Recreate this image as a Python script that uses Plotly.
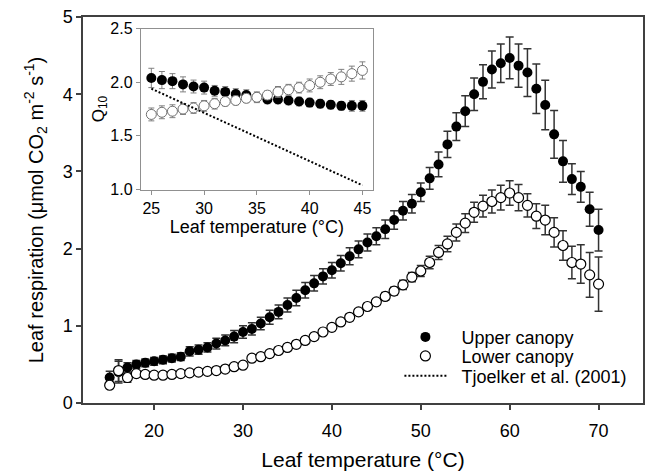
import plotly.graph_objects as go

# ---------------- data ----------------
temp = list(range(15, 71))
upper = [0.33, 0.40, 0.46, 0.50, 0.52, 0.54, 0.56, 0.58, 0.60, 0.67,
         0.69, 0.72, 0.77, 0.81, 0.86, 0.92, 0.96, 1.03, 1.11, 1.18,
         1.27, 1.36, 1.46, 1.55, 1.64, 1.72, 1.81, 1.90, 1.99, 2.08,
         2.16, 2.25, 2.37, 2.49, 2.58, 2.73, 2.91, 3.09, 3.35, 3.58,
         3.78, 4.00, 4.16, 4.32, 4.40, 4.47, 4.37, 4.28, 4.07, 3.86,
         3.48, 3.13, 2.90, 2.80, 2.51, 2.24]
upper_err = [0.08, 0.14, 0.06, 0.05, 0.05, 0.05, 0.05, 0.05, 0.05, 0.06,
             0.06, 0.06, 0.07, 0.07, 0.08, 0.08, 0.08, 0.08, 0.09, 0.09,
             0.09, 0.10, 0.10, 0.10, 0.10, 0.10, 0.10, 0.11, 0.11, 0.11,
             0.11, 0.12, 0.12, 0.12, 0.12, 0.12, 0.14, 0.16, 0.17, 0.18,
             0.20, 0.21, 0.22, 0.24, 0.25, 0.27, 0.28, 0.31, 0.32, 0.32,
             0.31, 0.27, 0.20, 0.20, 0.22, 0.27]
lower = [0.23, 0.42, 0.33, 0.38, 0.37, 0.36, 0.36, 0.37, 0.38, 0.39,
         0.40, 0.41, 0.42, 0.44, 0.47, 0.49, 0.58, 0.60, 0.64, 0.68,
         0.72, 0.76, 0.81, 0.86, 0.92, 0.98, 1.05, 1.11, 1.18, 1.25,
         1.31, 1.38, 1.45, 1.53, 1.63, 1.71, 1.82, 1.95, 2.06, 2.21,
         2.33, 2.47, 2.55, 2.61, 2.66, 2.72, 2.66, 2.56, 2.42, 2.37,
         2.21, 2.04, 1.82, 1.80, 1.66, 1.54]
lower_err = [0.03, 0.14, 0.06, 0.03, 0.03, 0.03, 0.03, 0.03, 0.03, 0.03,
             0.03, 0.03, 0.03, 0.03, 0.03, 0.03, 0.04, 0.04, 0.04, 0.04,
             0.04, 0.04, 0.04, 0.04, 0.04, 0.04, 0.04, 0.04, 0.04, 0.04,
             0.04, 0.05, 0.05, 0.06, 0.06, 0.07, 0.08, 0.09, 0.10, 0.11,
             0.12, 0.13, 0.14, 0.15, 0.16, 0.16, 0.17, 0.15, 0.16, 0.19,
             0.19, 0.19, 0.21, 0.25, 0.29, 0.35]

q_temp = list(range(25, 46))
q10_upper = [2.04, 2.02, 2.01, 1.98, 1.96, 1.95, 1.92, 1.91, 1.89, 1.88,
             1.86, 1.84, 1.84, 1.83, 1.82, 1.81, 1.80, 1.79, 1.78, 1.78, 1.78]
q10_upper_err = [0.09, 0.08, 0.07, 0.07, 0.06, 0.06, 0.05, 0.05, 0.05, 0.05,
                 0.05, 0.04, 0.04, 0.04, 0.04, 0.04, 0.04, 0.04, 0.04, 0.05, 0.05]
q10_lower = [1.70, 1.72, 1.73, 1.75, 1.76, 1.78, 1.80, 1.82, 1.83, 1.85,
             1.86, 1.88, 1.91, 1.93, 1.95, 1.97, 2.00, 2.03, 2.05, 2.08, 2.11]
q10_lower_err = [0.06, 0.06, 0.06, 0.05, 0.05, 0.05, 0.05, 0.04, 0.04, 0.04,
                 0.04, 0.04, 0.05, 0.05, 0.05, 0.06, 0.06, 0.06, 0.07, 0.07, 0.08]

tj_temp = [25, 45]
tj_q10 = [1.94, 1.04]

main_xticks = [20, 30, 40, 50, 60, 70]
main_yticks = [0, 1, 2, 3, 4, 5]
inset_xticks = [25, 30, 35, 40, 45]
inset_yticks = [1.0, 1.5, 2.0, 2.5]

FONT = "Liberation Sans, Arial, sans-serif"
PAD = "\u00a0\u00a0"

fig = go.Figure()

fig.add_trace(go.Scatter(
    x=temp, y=upper, mode="markers", name=PAD + "Upper canopy", legend="legend",
    marker=dict(size=10, color="black", line=dict(width=0)),
    error_y=dict(type="data", array=upper_err, color="#333333", thickness=1.5, width=4),
    xaxis="x", yaxis="y"))
fig.add_trace(go.Scatter(
    x=temp, y=lower, mode="markers", name=PAD + "Lower canopy", legend="legend2",
    marker=dict(size=10, color="white", line=dict(width=1.2, color="black")),
    error_y=dict(type="data", array=lower_err, color="#333333", thickness=1.5, width=4),
    xaxis="x", yaxis="y"))

fig.add_trace(go.Scatter(
    x=q_temp, y=q10_upper, mode="markers", showlegend=False,
    marker=dict(size=10, color="black", line=dict(width=0)),
    error_y=dict(type="data", array=q10_upper_err, color="#808080", thickness=1, width=3),
    xaxis="x2", yaxis="y2"))
fig.add_trace(go.Scatter(
    x=q_temp, y=q10_lower, mode="markers", showlegend=False,
    marker=dict(size=10, color="white", line=dict(width=1, color="#707070")),
    error_y=dict(type="data", array=q10_lower_err, color="#808080", thickness=1, width=3),
    xaxis="x2", yaxis="y2"))
fig.add_trace(go.Scatter(
    x=tj_temp, y=tj_q10, mode="lines", name=PAD + "Tjoelker et al. (2001)", legend="legend3",
    line=dict(color="black", width=2, dash="2px,2px"),
    xaxis="x2", yaxis="y2"))

leg_common = dict(xanchor="left", yanchor="middle", bgcolor="rgba(0,0,0,0)",
                  borderwidth=0, font=dict(size=18), itemwidth=42)

fig.update_layout(
    width=652, height=475,
    margin=dict(l=83, r=7, t=16, b=66),
    paper_bgcolor="white", plot_bgcolor="white",
    font=dict(family=FONT, size=18, color="black"),
    xaxis=dict(
        domain=[0, 1], range=[12, 75], tickvals=main_xticks,
        showgrid=False, zeroline=False, showline=True, mirror=True,
        linecolor="#404040", linewidth=1.5, ticks="outside", ticklen=5,
        tickwidth=1.5, tickcolor="#404040", ticklabelstandoff=6,
        tickfont=dict(size=18),
        title=dict(text="Leaf temperature (°C)", font=dict(size=21), standoff=12)),
    yaxis=dict(
        domain=[0, 1], range=[0, 5], tickvals=main_yticks,
        showgrid=False, zeroline=False, showline=True, mirror=True,
        linecolor="#404040", linewidth=1.5, ticks="outside", ticklen=5,
        tickwidth=1.5, tickcolor="#404040",
        tickfont=dict(size=18),
        title=dict(text="Leaf respiration (μmol CO<sub>2</sub> m<sup>-2</sup> s<sup>-1</sup>)",
                   font=dict(size=20), standoff=14)),
    xaxis2=dict(
        domain=[0.1032, 0.5178], range=[24, 46], tickvals=inset_xticks,
        anchor="y2", showgrid=False, zeroline=False, showline=True, mirror=True,
        linecolor="#909090", linewidth=1, ticks="outside", ticklen=4,
        tickcolor="#909090", tickfont=dict(size=16),
        title=dict(text="Leaf temperature (°C)", font=dict(size=18), standoff=4)),
    yaxis2=dict(
        domain=[0.553, 0.970], range=[1.0, 2.5], tickvals=inset_yticks,
        tickformat=".1f",
        anchor="x2", showgrid=False, zeroline=False, showline=True, mirror=True,
        linecolor="#909090", linewidth=1, ticks="outside", ticklen=4,
        tickcolor="#909090", tickfont=dict(size=16),
        title=dict(text="Q<sub>10</sub>", font=dict(size=17), standoff=1)),
    legend=dict(x=0.565, y=0.1705, **leg_common),
    legend2=dict(x=0.565, y=0.1211, **leg_common),
    legend3=dict(x=0.565, y=0.0697, **leg_common),
    showlegend=True,
)

fig.write_html("out.html")
